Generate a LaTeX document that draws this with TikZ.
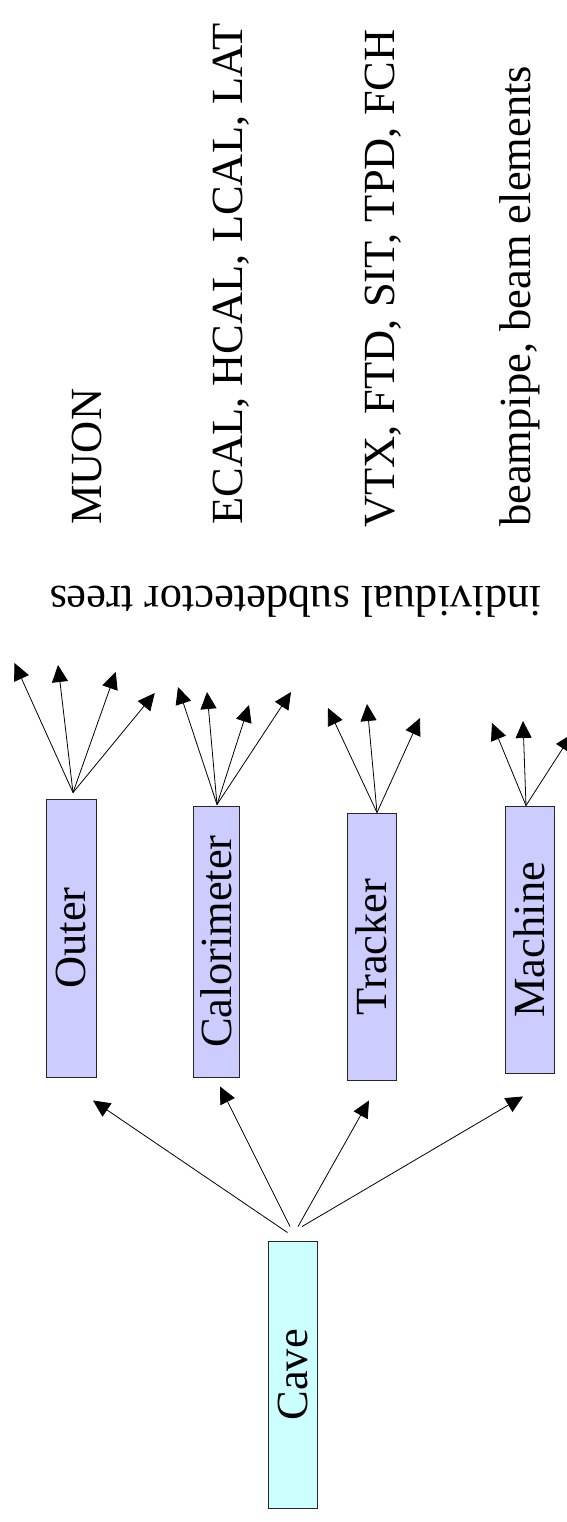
\documentclass[tikz,border=0pt]{standalone}
\usepackage{fontspec}
\setmainfont{Liberation Serif}
\usepackage{graphicx}
\usetikzlibrary{arrows.meta}
\definecolor{boxblue}{HTML}{CCCCFF}
\definecolor{cavecyan}{HTML}{CCFFFF}
\begin{document}
\begin{tikzpicture}[x=1pt,y=-1pt,
  box/.style={draw=black!85, line width=0.9pt, fill=boxblue, inner sep=0pt,
    font=\fontsize{44.5}{50}\selectfont},
  arr/.style={-{Triangle[length=17pt,width=16pt]}, line width=0.8pt},
  lbl/.style={font=\fontsize{44.5}{50}\selectfont, inner sep=0pt}]
\useasboundingbox (0,0) rectangle (567,1522);
\clip (0,0) rectangle (567,1522);

% boxes
\node[box, minimum width=49.5pt, minimum height=278pt] (outer) at (71.25,938) {\rotatebox{90}{Outer}};
\node[box, minimum width=46pt, minimum height=271pt] (calo) at (216.5,941.5) {\rotatebox{90}{Calorimeter}};
\node[box, minimum width=49pt, minimum height=267pt] (track) at (371.5,947) {\rotatebox{90}{Tracker}};
\node[box, minimum width=49pt, minimum height=266.5pt] (mach) at (529.5,939.75) {\rotatebox{90}{Machine}};
\node[box, fill=cavecyan, minimum width=49pt, minimum height=266.4pt] (cave) at (292.5,1374.8) {\rotatebox{90}{Cave}};

% arrows from Cave
\draw[arr] ([shift={(-5,-8.6)}]cave.north) -- ([shift={(21.75,23)}]outer.south);
\draw[arr] ([shift={(-2.5,-14.6)}]cave.north) -- ([shift={(3.5,9)}]calo.south);
\draw[arr] ([shift={(5.5,-14.6)}]cave.north) -- ([shift={(-2.5,19.5)}]track.south);
\draw[arr] ([shift={(9.5,-14.6)}]cave.north) -- ([shift={(-6.5,23)}]mach.south);

% fan origins
\coordinate (oo) at ([shift={(1.75,-6)}]outer.north);
\coordinate (oc) at ([shift={(0.5,-1)}]calo.north);
\coordinate (ot) at ([shift={(5.5,-0.5)}]track.north);
\coordinate (om) at ([shift={(-3.5,-0.5)}]mach.north);

% fan tips
\coordinate (to1) at (14.5,663);
\coordinate (to2) at (58,665);
\coordinate (to3) at (115.7,672);
\coordinate (to4) at (154.8,693);
\coordinate (tc1) at (178,687);
\coordinate (tc2) at (207,692);
\coordinate (tc3) at (249,705);
\coordinate (tc4) at (291,692);
\coordinate (tt1) at (328,708);
\coordinate (tt2) at (367,704);
\coordinate (tt3) at (420,718);
\coordinate (tm1) at (492,723);
\coordinate (tm2) at (523,721);
\coordinate (tm3) at (572,734);

\foreach \t in {to1,to2,to3,to4} \draw[arr] (oo) -- (\t);
\foreach \t in {tc1,tc2,tc3,tc4} \draw[arr] (oc) -- (\t);
\foreach \t in {tt1,tt2,tt3} \draw[arr] (ot) -- (\t);
\foreach \t in {tm1,tm2,tm3} \draw[arr] (om) -- (\t);

% labels
\node[lbl, rotate=90, anchor=base west] (muon) at (101,525) {MUON};
\node[lbl, rotate=90, anchor=base west] (calolist) at (242,525) {ECAL, HCAL, LCAL, LAT};
\node[lbl, rotate=90, anchor=base west] (tracklist) at (394,528) {VTX, FTD, SIT, TPD, FCH};
\node[lbl, rotate=90, anchor=base west] (machlist) at (530,527) {beampipe, beam elements};
\node[lbl, rotate=180, anchor=base west] (trees) at (542,586) {individual subdetector trees};
\end{tikzpicture}
\end{document}
